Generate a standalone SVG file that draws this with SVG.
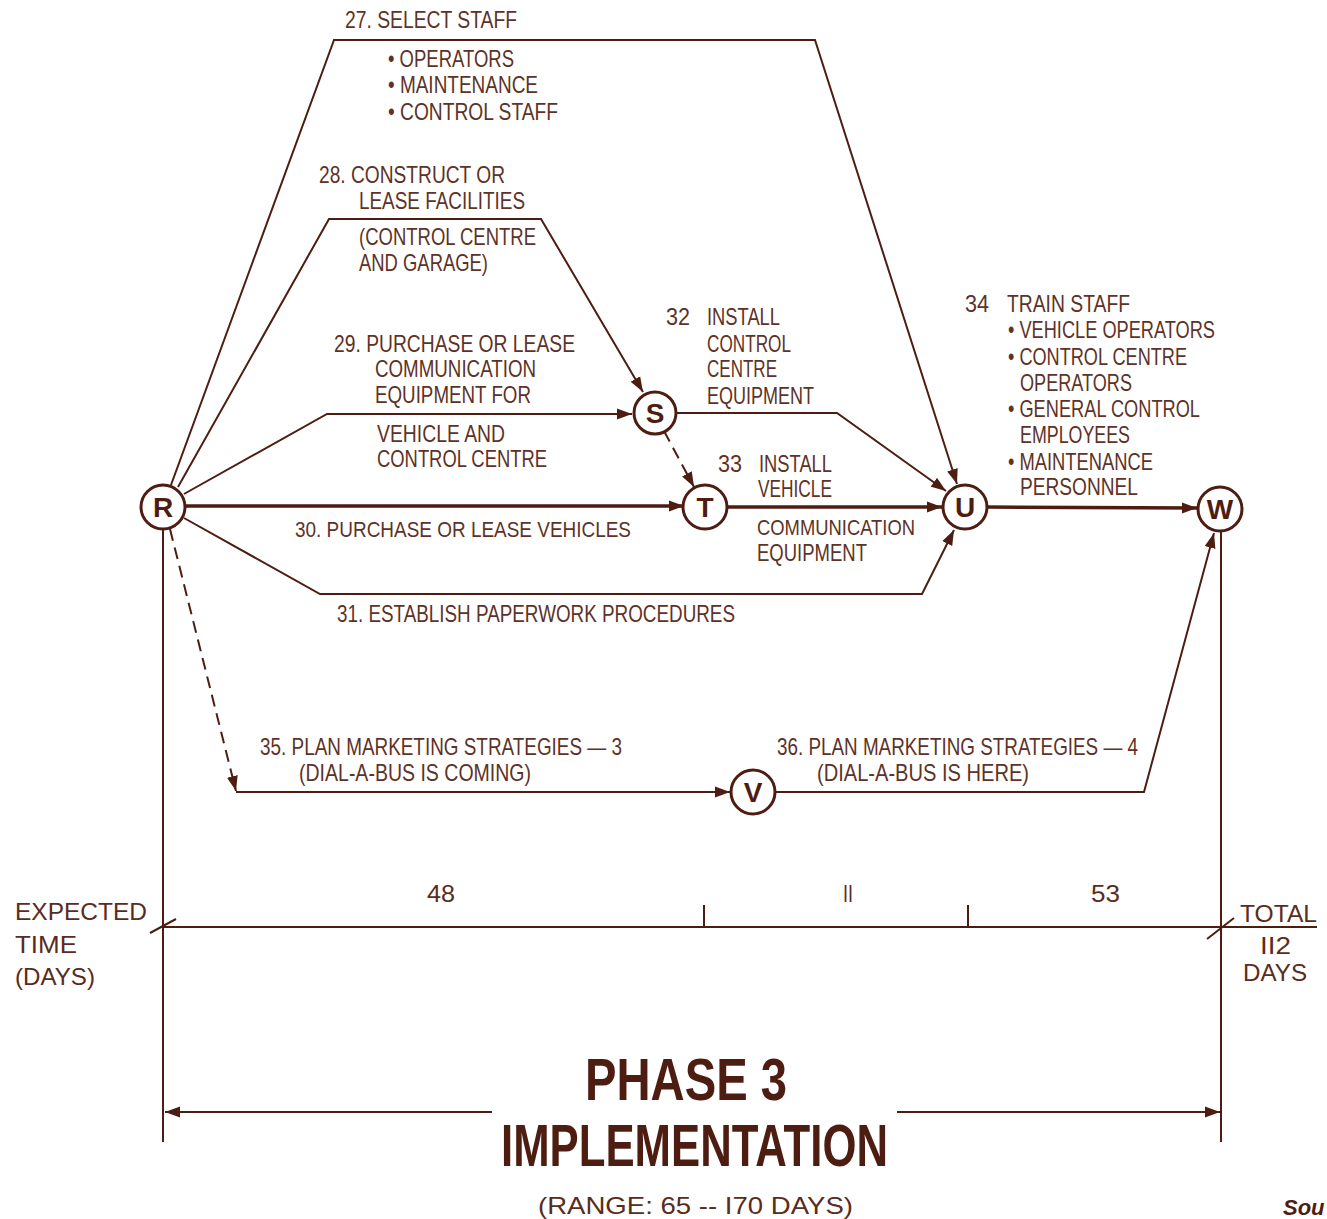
<svg xmlns="http://www.w3.org/2000/svg" width="1327" height="1219" viewBox="0 0 1327 1219">
<defs>
<marker id="ah" markerUnits="userSpaceOnUse" markerWidth="16" markerHeight="12" refX="15" refY="6" orient="auto-start-reverse" viewBox="0 0 16 12">
<path d="M0,0.5 L15,6 L0,11.5 z" fill="#4e1d12"/>
</marker>
</defs>
<style>
.ln{fill:none;stroke:#4e1d12;stroke-width:2;stroke-linejoin:miter}
.thick{stroke-width:3.5}
.dash{stroke-dasharray:12 7}
.nc{fill:#fff;stroke:#4e1d12;stroke-width:3}
.nl{font-family:"Liberation Sans",Arial,sans-serif;font-weight:bold;font-size:28px;fill:#4e1d12;text-anchor:middle}
.t{font-family:"Liberation Sans",Arial,sans-serif;font-size:24px;fill:#5e3226}
.s{font-size:22px}
.w{font-family:"Liberation Sans",Arial,sans-serif;font-size:24px;fill:#5a2c20}
.big{font-family:"Liberation Sans",Arial,sans-serif;font-weight:bold;font-size:60px;fill:#4e1d12}
</style>
<rect width="1327" height="1219" fill="#ffffff"/>

<g id="connectors">
<polyline class="ln" points="171,485 334,40 815,40 957,484" marker-end="url(#ah)"/>
<polyline class="ln" points="178,487 329,219 541,219 643,392" marker-end="url(#ah)"/>
<polyline class="ln" points="184,494 327,414 632,414" marker-end="url(#ah)"/>
<line class="ln dash" x1="664" y1="431" x2="694" y2="487" marker-end="url(#ah)"/>
<line class="ln thick" x1="186" y1="506" x2="684" y2="506" marker-end="url(#ah)"/>
<polyline class="ln" points="184,518 320,594 922,594 954,530" marker-end="url(#ah)"/>
<polyline class="ln" points="676,413 837,413 946,491" marker-end="url(#ah)"/>
<line class="ln thick" x1="727" y1="507" x2="942" y2="507" marker-end="url(#ah)"/>
<line class="ln thick" x1="986" y1="507" x2="1197" y2="508" marker-end="url(#ah)"/>
<line class="ln dash" x1="170" y1="529" x2="236" y2="791" marker-end="url(#ah)"/>
<line class="ln" x1="236" y1="792" x2="730" y2="792" marker-end="url(#ah)"/>
<polyline class="ln" points="774,792 1144,792 1214,533" marker-end="url(#ah)"/>
<line class="ln" x1="163" y1="529" x2="163" y2="1142"/>
<line class="ln" x1="1221" y1="531" x2="1221" y2="1142"/>
<line class="ln" x1="163" y1="927" x2="1317" y2="927"/>
<line class="ln" x1="150" y1="933" x2="176" y2="919"/>
<line class="ln" x1="1207" y1="939" x2="1234" y2="918"/>
<line class="ln" x1="704" y1="905" x2="704" y2="927"/>
<line class="ln" x1="968" y1="905" x2="968" y2="927"/>
<line class="ln" x1="165" y1="1112" x2="492" y2="1112" marker-start="url(#ah)"/>
<line class="ln" x1="897" y1="1112" x2="1220" y2="1112" marker-end="url(#ah)"/>
</g>

<g id="node-R"><circle class="nc" cx="163" cy="507" r="22"/><text class="nl" x="163" y="517">R</text></g>
<g id="node-S"><circle class="nc" cx="655" cy="413" r="21"/><text class="nl" x="655" y="423">S</text></g>
<g id="node-T"><circle class="nc" cx="705" cy="507" r="22"/><text class="nl" x="705" y="517">T</text></g>
<g id="node-U"><circle class="nc" cx="965" cy="507" r="22"/><text class="nl" x="965" y="517">U</text></g>
<g id="node-W"><circle class="nc" cx="1220" cy="509" r="22"/><text class="nl" x="1220" y="519">W</text></g>
<g id="node-V"><circle class="nc" cx="753" cy="792" r="22"/><text class="nl" x="753" y="802">V</text></g>

<g id="labels">
<text class="t" x="345" y="28" textLength="172" lengthAdjust="spacingAndGlyphs">27. SELECT STAFF</text>
<text class="t" x="388" y="67" textLength="126" lengthAdjust="spacingAndGlyphs">• OPERATORS</text>
<text class="t" x="388" y="93" textLength="150" lengthAdjust="spacingAndGlyphs">• MAINTENANCE</text>
<text class="t" x="388" y="120" textLength="170" lengthAdjust="spacingAndGlyphs">• CONTROL STAFF</text>

<text class="t" x="319" y="183" textLength="186" lengthAdjust="spacingAndGlyphs">28. CONSTRUCT OR</text>
<text class="t" x="359" y="209" textLength="166" lengthAdjust="spacingAndGlyphs">LEASE FACILITIES</text>
<text class="t" x="359" y="245" textLength="177" lengthAdjust="spacingAndGlyphs">(CONTROL CENTRE</text>
<text class="t" x="359" y="271" textLength="129" lengthAdjust="spacingAndGlyphs">AND GARAGE)</text>

<text class="t" x="334" y="352" textLength="241" lengthAdjust="spacingAndGlyphs">29. PURCHASE OR LEASE</text>
<text class="t" x="375" y="377" textLength="161" lengthAdjust="spacingAndGlyphs">COMMUNICATION</text>
<text class="t" x="375" y="403" textLength="156" lengthAdjust="spacingAndGlyphs">EQUIPMENT FOR</text>
<text class="t" x="377" y="442" textLength="128" lengthAdjust="spacingAndGlyphs">VEHICLE AND</text>
<text class="t" x="377" y="467" textLength="170" lengthAdjust="spacingAndGlyphs">CONTROL CENTRE</text>

<text class="t" x="666" y="325" textLength="24" lengthAdjust="spacingAndGlyphs">32</text>
<text class="t" x="707" y="325" textLength="73" lengthAdjust="spacingAndGlyphs">INSTALL</text>
<text class="t" x="707" y="352" textLength="84" lengthAdjust="spacingAndGlyphs">CONTROL</text>
<text class="t" x="707" y="377" textLength="70" lengthAdjust="spacingAndGlyphs">CENTRE</text>
<text class="t" x="707" y="404" textLength="107" lengthAdjust="spacingAndGlyphs">EQUIPMENT</text>

<text class="t" x="718" y="472" textLength="24" lengthAdjust="spacingAndGlyphs">33</text>
<text class="t" x="759" y="472" textLength="73" lengthAdjust="spacingAndGlyphs">INSTALL</text>
<text class="t" x="758" y="497" textLength="74" lengthAdjust="spacingAndGlyphs">VEHICLE</text>
<text class="t s" x="757" y="535" textLength="158" lengthAdjust="spacingAndGlyphs">COMMUNICATION</text>
<text class="t" x="757" y="561" textLength="110" lengthAdjust="spacingAndGlyphs">EQUIPMENT</text>

<text class="t s" x="295" y="537" textLength="336" lengthAdjust="spacingAndGlyphs">30. PURCHASE OR LEASE VEHICLES</text>
<text class="t" x="337" y="622" textLength="398" lengthAdjust="spacingAndGlyphs">31. ESTABLISH PAPERWORK PROCEDURES</text>

<text class="t" x="965" y="312" textLength="24" lengthAdjust="spacingAndGlyphs">34</text>
<text class="t" x="1007" y="312" textLength="123" lengthAdjust="spacingAndGlyphs">TRAIN STAFF</text>
<text class="t" x="1008" y="338" textLength="207" lengthAdjust="spacingAndGlyphs">• VEHICLE OPERATORS</text>
<text class="t" x="1008" y="365" textLength="179" lengthAdjust="spacingAndGlyphs">• CONTROL CENTRE</text>
<text class="t" x="1020" y="391" textLength="112" lengthAdjust="spacingAndGlyphs">OPERATORS</text>
<text class="t" x="1008" y="417" textLength="192" lengthAdjust="spacingAndGlyphs">• GENERAL CONTROL</text>
<text class="t" x="1020" y="443" textLength="110" lengthAdjust="spacingAndGlyphs">EMPLOYEES</text>
<text class="t" x="1008" y="470" textLength="145" lengthAdjust="spacingAndGlyphs">• MAINTENANCE</text>
<text class="t" x="1020" y="495" textLength="118" lengthAdjust="spacingAndGlyphs">PERSONNEL</text>

<text class="t" x="260" y="755" textLength="362" lengthAdjust="spacingAndGlyphs">35. PLAN MARKETING STRATEGIES — 3</text>
<text class="t" x="299" y="781" textLength="232" lengthAdjust="spacingAndGlyphs">(DIAL-A-BUS IS COMING)</text>
<text class="t" x="777" y="755" textLength="361" lengthAdjust="spacingAndGlyphs">36. PLAN MARKETING STRATEGIES — 4</text>
<text class="t" x="817" y="781" textLength="212" lengthAdjust="spacingAndGlyphs">(DIAL-A-BUS IS HERE)</text>

<text class="w" x="15" y="920" textLength="132" lengthAdjust="spacingAndGlyphs">EXPECTED</text>
<text class="w" x="15" y="953" textLength="62" lengthAdjust="spacingAndGlyphs">TIME</text>
<text class="w" x="15" y="985" textLength="80" lengthAdjust="spacingAndGlyphs">(DAYS)</text>

<text class="w" x="427" y="902" textLength="28" lengthAdjust="spacingAndGlyphs">48</text>
<text class="w" x="843" y="902" textLength="10" lengthAdjust="spacingAndGlyphs">II</text>
<text class="w" x="1091" y="902" textLength="29" lengthAdjust="spacingAndGlyphs">53</text>

<text class="w" x="1240" y="922" textLength="77" lengthAdjust="spacingAndGlyphs">TOTAL</text>
<text class="w" x="1260" y="954" textLength="31" lengthAdjust="spacingAndGlyphs">II2</text>
<text class="w" x="1243" y="981" textLength="64" lengthAdjust="spacingAndGlyphs">DAYS</text>

<text class="big" x="585" y="1100" textLength="202" lengthAdjust="spacingAndGlyphs">PHASE 3</text>
<text class="big" x="501" y="1166" textLength="387" lengthAdjust="spacingAndGlyphs">IMPLEMENTATION</text>
<text class="w" x="538" y="1214" textLength="315" lengthAdjust="spacingAndGlyphs">(RANGE: 65  --  I70 DAYS)</text>
<text x="1283" y="1215" font-family="Liberation Sans, Arial, sans-serif" font-size="22" font-weight="bold" font-style="italic" fill="#4e1d12">Sou</text>
</g>
</svg>
